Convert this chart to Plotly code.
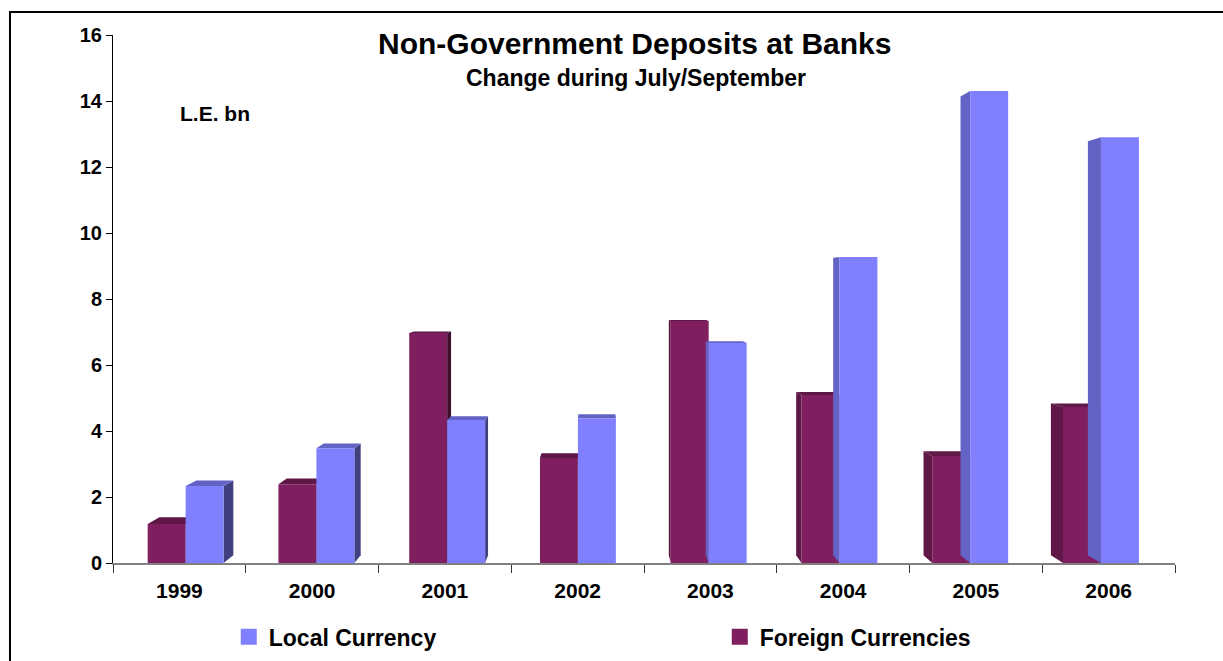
import plotly.graph_objects as go

# Non-government deposits at banks, change during July/September (L.E. bn)
years = ["1999", "2000", "2001", "2002", "2003", "2004", "2005", "2006"]
local_currency = [2.33, 3.48, 4.33, 4.39, 6.67, 9.27, 14.30, 12.90]
foreign_currencies = [1.18, 2.39, 6.97, 3.18, 7.33, 5.09, 3.24, 4.73]

# colours: front face, top/inner side face, outer side face
LOCAL = ("#8080FF", "#6363C6", "#40407F")
FOREIGN = ("#7F1F5F", "#5F1747", "#3F0F2F")

# pseudo-3D geometry (data units): vanishing point, depth factors, bar width
VX, VY = 3.15, 8.5
KX, KY = 0.026, 0.028
SHIFT = 0.015
BAR_W = 0.286

FONT = "Liberation Sans, Arial, sans-serif"

fig = go.Figure()


def back(x, y):
    return x + KX * (VX - x), y + KY * (VY - y)


def poly(xs, ys, color):
    fig.add_trace(go.Scatter(
        x=xs + [xs[0]], y=ys + [ys[0]], mode="lines", fill="toself",
        fillcolor=color, line=dict(width=0, color=color),
        hoverinfo="skip", showlegend=False))


def draw_bar(i, value, side, colors):
    front, mid, dark = colors
    cx = i + SHIFT * (VX - i)
    xl = cx - BAR_W if side == "left" else cx
    xr = xl + BAR_W
    # side face
    if xr < VX:
        bx0, by0 = back(xr, 0)
        bx1, by1 = back(xr, value)
        poly([xr, xr, bx1, bx0], [0, value, by1, by0], dark)
    elif xl > VX:
        bx0, by0 = back(xl, 0)
        bx1, by1 = back(xl, value)
        poly([xl, xl, bx1, bx0], [0, value, by1, by0], mid)
    # top face
    if value < VY:
        ax, ay = back(xl, value)
        bx, by = back(xr, value)
        poly([xl, xr, bx, ax], [value, value, by, ay], mid)
    # front face
    poly([xl, xr, xr, xl], [0, 0, value, value], front)


for i, v in enumerate(foreign_currencies):
    draw_bar(i, v, "left", FOREIGN)
for i, v in enumerate(local_currency):
    draw_bar(i, v, "right", LOCAL)

# legend entries (square swatches)
for name, col in (("Local Currency", LOCAL[0]),
                  ("Foreign Currencies", FOREIGN[0])):
    fig.add_trace(go.Scatter(
        x=[None], y=[None], mode="markers", name=name,
        marker=dict(symbol="square", size=16, color=col)))

positions = list(range(len(years)))
boundaries = [p - 0.5 for p in positions] + [positions[-1] + 0.5]

fig.update_layout(
    width=1223, height=661,
    margin=dict(l=113, r=48, t=35, b=98, autoexpand=False),
    paper_bgcolor="white", plot_bgcolor="white",
    font=dict(family=FONT, size=20, color="black"),
    showlegend=True,
    legend=dict(orientation="h", x=0.109, y=-0.14, xanchor="left",
                yanchor="middle", entrywidth=446, entrywidthmode="pixels",
                font=dict(family=FONT, size=23, weight="bold"),
                itemsizing="trace", traceorder="normal",
                bgcolor="rgba(0,0,0,0)"),
    xaxis=dict(range=[-0.5, 7.5], tickmode="array", tickvals=positions,
               ticktext=years, ticks="", showgrid=False, zeroline=False,
               showline=True, linecolor="#808080", linewidth=2,
               ticklabelstandoff=8,
               tickfont=dict(family=FONT, size=21, weight="bold"),
               minor=dict(tickmode="array", tickvals=boundaries,
                          ticks="outside", ticklen=8, tickcolor="#333333",
                          tickwidth=1, showgrid=False),
               fixedrange=True),
    yaxis=dict(range=[0, 16], tickmode="linear", tick0=0, dtick=2,
               ticks="outside", ticklen=6, tickcolor="black",
               showgrid=False, zeroline=False, showline=True,
               linecolor="black", linewidth=1,
               tickfont=dict(family=FONT, size=20, weight="bold"),
               fixedrange=True),
    annotations=[
        dict(text="Non-Government Deposits at Banks", xref="paper",
             yref="paper", x=0.4915, y=0.983, xanchor="center",
             yanchor="middle", showarrow=False,
             font=dict(family=FONT, size=30, weight="bold")),
        dict(text="Change during July/September", xref="paper",
             yref="paper", x=0.4929, y=0.9186, xanchor="center",
             yanchor="middle", showarrow=False,
             font=dict(family=FONT, size=23, weight="bold")),
        dict(text="L.E. bn", xref="paper", yref="paper", x=0.0612,
             y=0.852, xanchor="left", yanchor="middle", showarrow=False,
             font=dict(family=FONT, size=21, weight="bold")),
    ],
    shapes=[
        dict(type="rect", xref="paper", yref="paper", x0=-0.097,
             x1=1.2, y0=-0.4, y1=1.0436,
             line=dict(color="black", width=2), fillcolor="rgba(0,0,0,0)",
             layer="below"),
    ],
)

fig.write_html("out.html")
